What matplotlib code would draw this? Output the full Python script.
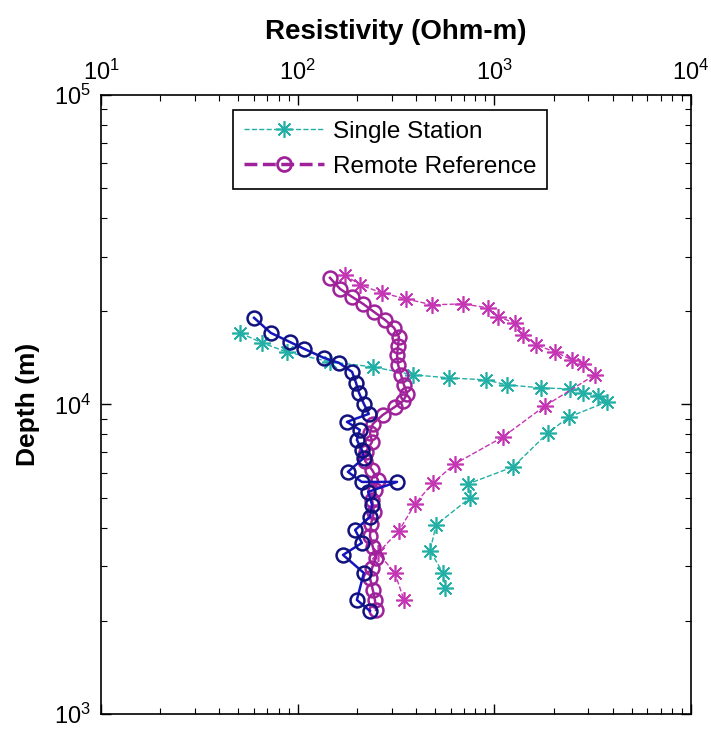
import matplotlib
matplotlib.use("Agg")
import matplotlib.pyplot as plt
from matplotlib.lines import Line2D

plt.rcParams['font.family'] = ['Liberation Sans', 'DejaVu Sans']
plt.rcParams['mathtext.default'] = 'regular'

# Single station (cyan stars)
ss_res = [51, 66, 88, 146, 241, 386, 588, 907, 1159, 1726, 2423, 2821, 3363, 3736,
          2394, 1873, 1243, 734, 752, 505, 471, 548, 561]
ss_depth = [17020, 15800, 14770, 13720, 13220, 12460, 12180, 12000, 11560, 11310, 11220,
            10900, 10650, 10190, 9110, 8090, 6280, 5535, 4988, 4080, 3363, 2855, 2554]

# magenta stars
ms_res = [174, 207, 268, 355, 482, 692, 928, 1043, 1273, 1398, 1628, 2033, 2480, 2821,
          3246, 1808, 1106, 630, 487, 395, 327, 256, 312, 347]
ms_depth = [26200, 24330, 22930, 21920, 20970, 21120, 20500, 19170, 18330, 16770, 15570,
            14770, 13930, 13520, 12460, 9890, 7850, 6425, 5577, 4770, 3903, 3313, 2855, 2335]

# Remote reference (magenta circles)
mc_res = [146, 164, 189, 215, 244, 278, 309, 327, 324, 320, 324, 335, 347, 360, 343, 312,
          271, 241, 233, 239, 222, 220, 239, 256, 247, 239, 244, 236, 233, 241, 250, 239,
          233, 241, 247, 250]
mc_depth = [25630, 23620, 22250, 21120, 19910, 18750, 17670, 16520, 15450, 14450, 13420,
            12460, 11560, 10810, 10260, 9815, 9249, 8650, 8090, 7565, 7022, 6568, 6142,
            5703, 5293, 4914, 4494, 4111, 3759, 3464, 3192, 2963, 2750, 2516, 2335, 2168]

# blue circles
bc_res = [60, 73, 91, 108, 136, 162, 189, 198, 205, 217, 230, 178, 207, 200, 212, 217,
          180, 212, 320, 228, 239, 233, 196, 212, 170, 217, 200, 233]
bc_depth = [19040, 17020, 15920, 15110, 14130, 13620, 12740, 11740, 10900, 10040, 9318,
            8780, 8272, 7680, 7129, 6716, 6052, 5618, 5618, 5215, 4735, 4330, 3931, 3568,
            3264, 2855, 2335, 2152]

cyan = '#22B0A6'
mag_star = '#C436B4'
mag_circ = '#A0229A'
navy = '#12127E'
star = (8, 2, 0)

fig = plt.figure(figsize=(7.11, 7.31), dpi=100)
ax = fig.add_axes([0.142, 0.0233, 0.830, 0.847])

ax.plot(ss_res, ss_depth, color=cyan, ls='--', lw=1.0, marker=star, ms=12, mew=1.2)
ax.plot(ms_res, ms_depth, color=mag_star, ls='--', lw=1.0, marker=star, ms=12, mew=1.2)
ax.plot(mc_res, mc_depth, color=mag_circ, ls='-', lw=1.8, marker='o', ms=10,
        mew=1.8, mfc='none')
ax.plot(bc_res, bc_depth, color='#1515C0', ls='-', lw=1.8, marker='o', ms=10,
        mew=1.8, mec=navy, mfc='none')

ax.set_xscale('log')
ax.set_yscale('log')
ax.set_xlim(10, 1e4)
ax.set_ylim(1e3, 1e5)

ax.xaxis.set_label_position('top')
ax.set_xlabel('Resistivity (Ohm-m)', fontsize=20, fontweight='bold', labelpad=15)
ax.set_ylabel('Depth (m)', fontsize=19, fontweight='bold', labelpad=10)

ax.tick_params(which='both', direction='in', top=True, bottom=True, left=True,
               right=True, labeltop=True, labelbottom=False, labelsize=17, pad=7)
ax.tick_params(which='major', length=7, width=1)
ax.tick_params(which='minor', length=4, width=0.8)
for s in ax.spines.values():
    s.set_linewidth(1.2)

handles = [
    Line2D([], [], color=cyan, ls='--', lw=1.0, marker=star, ms=12, mew=1.2),
    Line2D([], [], color=mag_circ, ls='--', lw=2.5, marker='o', ms=10, mew=2, mfc='none'),
]
leg = ax.legend(handles, ['Single Station', 'Remote Reference'], loc='upper center',
                bbox_to_anchor=(0.49, 0.976), borderaxespad=0, fontsize=17.5,
                handlelength=3.3, fancybox=False, edgecolor='black', framealpha=1,
                borderpad=0.45, labelspacing=0.55, handletextpad=0.35)
leg.get_frame().set_linewidth(1.2)

fig.savefig('out.png', dpi=100)
